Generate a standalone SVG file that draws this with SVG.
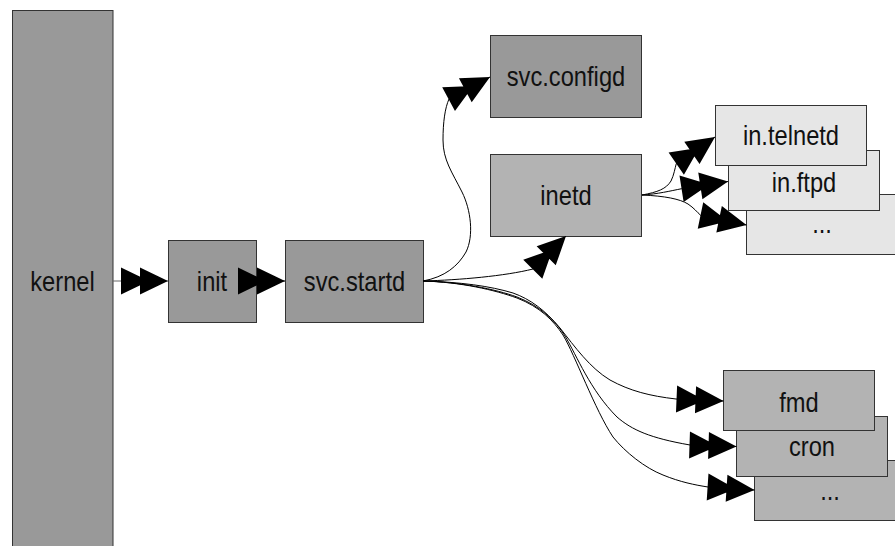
<svg xmlns="http://www.w3.org/2000/svg" width="895" height="546" viewBox="0 0 895 546">
<style>
.box{stroke:#333;stroke-width:1}
.dark{fill:#999999}
.mid{fill:#b3b3b3}
.light{fill:#e6e6e6}
.lbl{font-family:"Liberation Sans",Arial,sans-serif;font-size:28px;fill:#111;text-anchor:middle}
.con{fill:none;stroke:#000;stroke-width:1;marker-end:url(#dbl)}
</style>
<defs>
<marker id="dbl" markerUnits="userSpaceOnUse" orient="auto" overflow="visible" markerWidth="1" markerHeight="1" refX="0" refY="0">
<path d="M0,0 L-28,-13.5 L-28,13.5 Z M-19,0 L-47,-13.5 L-47,13.5 Z" fill="#000"/>
</marker>
</defs>
<g id="kernel"><rect class="box dark" x="12.5" y="10.5" width="100.5" height="545"/><text class="lbl" transform="translate(62.5,291) scale(0.846 1)">kernel</text></g>
<g id="init"><rect class="box dark" x="168.5" y="240.5" width="88" height="82"/><text class="lbl" transform="translate(212,291) scale(0.846 1)">init</text></g>
<g id="svc.startd"><rect class="box dark" x="285.5" y="240.5" width="138" height="82"/><text class="lbl" transform="translate(354.5,291) scale(0.846 1)">svc.startd</text></g>
<g id="svc.configd"><rect class="box dark" x="490.5" y="35.5" width="151" height="82"/><text class="lbl" transform="translate(566,86) scale(0.846 1)">svc.configd</text></g>
<g id="inetd"><rect class="box mid" x="490.5" y="154.5" width="151" height="82"/><text class="lbl" transform="translate(566,205) scale(0.846 1)">inetd</text></g>
<g id="inet-more"><rect class="box light" x="746.5" y="194.5" width="151" height="60"/><text class="lbl" transform="translate(822,233) scale(0.846 1)">...</text></g>
<g id="in.ftpd"><rect class="box light" x="728.5" y="150.5" width="151" height="60"/><text class="lbl" transform="translate(804,192) scale(0.846 1)">in.ftpd</text></g>
<g id="in.telnetd"><rect class="box light" x="715.5" y="105.5" width="151" height="60"/><text class="lbl" transform="translate(791,145) scale(0.846 1)">in.telnetd</text></g>
<g id="svc-more"><rect class="box mid" x="754.5" y="460.5" width="151" height="60"/><text class="lbl" transform="translate(830,500) scale(0.846 1)">...</text></g>
<g id="cron"><rect class="box mid" x="736.5" y="416.5" width="151" height="60"/><text class="lbl" transform="translate(812,456) scale(0.846 1)">cron</text></g>
<g id="fmd"><rect class="box mid" x="723.5" y="370.5" width="151" height="60"/><text class="lbl" transform="translate(799,412) scale(0.846 1)">fmd</text></g>
<g id="connectors">
<path class="con" style="stroke:#666" d="M113,281 L168,281"/>
<path class="con" d="M256,281 L285,281"/>
<path class="con" d="M423,281 C445,277 458,266 466,252 C474,236 471,210 462,192 C452,172 443,160 443,140 C443,122 445,108 449,99 L490,77"/>
<path class="con" d="M423,281 C460,280 505,276 533,269 L566,236"/>
<path class="con" d="M642,195 C658,192 666,189 671,181 C674,175 675,168 676.3,163.6 L715,137"/>
<path class="con" d="M642,195 C658,194 670,191 681.7,188.7 L728,181.5"/>
<path class="con" d="M642,195 C665,196 680,199 688,204 C694,208 697,212 700.8,215.5 L746.5,225"/>
<path class="con" d="M423,281 C460,282 490,286 513,293 C530,299 545,310 560,328 C575,347 590,368 610,380 C630,391 650,396 676,399 L723.5,401"/>
<path class="con" d="M423,281 C460,282 495,289 517,297 C540,306 555,320 565,336 C577,356 590,390 617,417 C632,430 650,438 690,445 L736.5,446.5"/>
<path class="con" d="M423,281 C460,282 495,290 517,298 C540,307 553,320 563,335 C575,355 595,410 613,437 C625,452 645,468 663,475 C680,482 695,485 708,487 L754.5,490"/>
</g>
</svg>
